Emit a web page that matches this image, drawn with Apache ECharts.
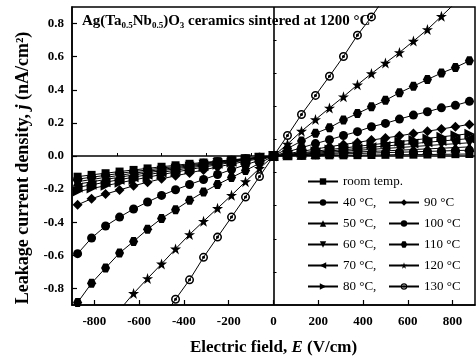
<!DOCTYPE html>
<html><head><meta charset="utf-8">
<script src="https://cdn.jsdelivr.net/npm/echarts@6/dist/echarts.min.js"></script>
<style>html,body{margin:0;padding:0;background:#fff}#c{width:476px;height:361px}</style>
</head><body><div id="c"></div>
<script>
// Electric field values (V/cm)
const fieldValues = [-875,-812.5,-750,-687.5,-625,-562.5,-500,-437.5,-375,-312.5,-250,-187.5,-125,-62.5,0,62.5,125,187.5,250,312.5,375,437.5,500,562.5,625,687.5,750,812.5,875];

// Leakage current density (nA/cm^2) for each temperature
const roomTemp = [-0.125,-0.114,-0.104,-0.094,-0.084,-0.075,-0.065,-0.056,-0.047,-0.039,-0.031,-0.023,-0.015,-0.007,0,0.001,0.002,0.003,0.004,0.004,0.005,0.006,0.007,0.008,0.008,0.009,0.010,0.011,0.012];
const t40 = [-0.140,-0.128,-0.117,-0.105,-0.094,-0.084,-0.073,-0.063,-0.053,-0.044,-0.034,-0.025,-0.017,-0.008,0,0.003,0.005,0.008,0.010,0.013,0.015,0.018,0.020,0.023,0.025,0.028,0.030,0.033,0.035];
const t50 = [-0.155,-0.142,-0.129,-0.117,-0.104,-0.093,-0.081,-0.070,-0.059,-0.048,-0.038,-0.028,-0.018,-0.009,0,0.004,0.008,0.012,0.016,0.020,0.024,0.028,0.031,0.035,0.039,0.043,0.047,0.051,0.055];
const t60 = [-0.170,-0.156,-0.142,-0.128,-0.115,-0.101,-0.089,-0.077,-0.065,-0.053,-0.042,-0.031,-0.020,-0.010,0,0.006,0.011,0.017,0.023,0.029,0.034,0.040,0.046,0.051,0.057,0.063,0.069,0.074,0.080];
const t70 = [-0.190,-0.174,-0.158,-0.143,-0.128,-0.113,-0.099,-0.086,-0.072,-0.059,-0.047,-0.034,-0.022,-0.011,0,0.008,0.015,0.023,0.030,0.038,0.045,0.053,0.060,0.068,0.075,0.083,0.090,0.098,0.105];
const t80 = [-0.215,-0.197,-0.179,-0.162,-0.145,-0.128,-0.112,-0.097,-0.082,-0.067,-0.053,-0.039,-0.025,-0.012,0,0.010,0.019,0.029,0.039,0.048,0.058,0.068,0.077,0.087,0.096,0.106,0.116,0.125,0.135];
const t90 = [-0.295,-0.258,-0.230,-0.205,-0.180,-0.158,-0.138,-0.120,-0.102,-0.084,-0.066,-0.049,-0.032,-0.016,0,0.014,0.028,0.042,0.056,0.069,0.082,0.096,0.109,0.122,0.136,0.150,0.163,0.177,0.191];
const t100 = [-0.590,-0.495,-0.423,-0.369,-0.320,-0.278,-0.238,-0.204,-0.172,-0.142,-0.112,-0.082,-0.053,-0.026,0,0.025,0.050,0.075,0.098,0.124,0.147,0.177,0.197,0.223,0.247,0.267,0.291,0.306,0.330];
const t110 = [-0.885,-0.768,-0.676,-0.586,-0.516,-0.443,-0.377,-0.324,-0.268,-0.218,-0.172,-0.130,-0.088,-0.044,0,0.045,0.090,0.137,0.171,0.217,0.257,0.297,0.336,0.382,0.422,0.462,0.501,0.535,0.575];
const t120 = [null,null,null,-0.930,-0.830,-0.740,-0.652,-0.561,-0.474,-0.394,-0.316,-0.237,-0.155,-0.075,0,0.072,0.150,0.220,0.290,0.358,0.430,0.498,0.562,0.625,0.694,0.764,0.844,0.925,null];
const t130 = [null,null,null,null,null,null,-0.985,-0.865,-0.748,-0.612,-0.490,-0.369,-0.248,-0.124,0,0.124,0.251,0.366,0.482,0.601,0.730,0.840,0.965,null,null,null,null,null,null];

const seriesNames = ['room temp.','40 °C','50 °C','60 °C','70 °C','80 °C','90 °C','100 °C','110 °C','120 °C','130 °C'];
const seriesValues = [roomTemp,t40,t50,t60,t70,t80,t90,t100,t110,t120,t130];

const xTickLabels = [-800,-600,-400,-200,0,200,400,600,800];
const xMinorTicks = [-700,-500,-300,-100,100,300,500,700];
const yTickLabels = [-0.8,-0.6,-0.4,-0.2,0,0.2,0.4,0.6,0.8];
const yMinorTicks = [-0.7,-0.5,-0.3,-0.1,0.1,0.3,0.5,0.7];

const SERIF = 'Liberation Serif';
const starPath = 'path://M5,0 L6.2,3.6 L10,3.6 L6.9,5.9 L8.1,9.5 L5,7.3 L1.9,9.5 L3.1,5.9 L0,3.6 L3.8,3.6 Z';
const hexPath = 'path://M2.5,0 L7.5,0 L10,4.33 L7.5,8.66 L2.5,8.66 L0,4.33 Z';
const ringDotPath = 'path://M0,5 A5,5 0 1,1 10,5 A5,5 0 1,1 0,5 Z M1.7,5 A3.3,3.3 0 1,0 8.3,5 A3.3,3.3 0 1,0 1.7,5 Z M3.3,5 A1.7,1.7 0 1,1 6.7,5 A1.7,1.7 0 1,1 3.3,5 Z';
const symbols = [
  {symbol:'rect', rot:0, size:8},
  {symbol:'circle', rot:0, size:9},
  {symbol:'triangle', rot:0, size:10},
  {symbol:'triangle', rot:180, size:10},
  {symbol:'triangle', rot:90, size:10},
  {symbol:'triangle', rot:-90, size:10},
  {symbol:'diamond', rot:0, size:10},
  {symbol:'circle', rot:0, size:9},
  {symbol:hexPath, rot:0, size:9},
  {symbol:starPath, rot:0, size:11},
  {symbol:ringDotPath, rot:0, size:9}
];

const series = seriesNames.map((name, i) => {
  const s = {
    name: name,
    type: 'line',
    xAxisIndex: 0, yAxisIndex: 0,
    data: fieldValues.map((x, j) => [x, seriesValues[i][j]]),
    symbol: symbols[i].symbol,
    symbolRotate: symbols[i].rot,
    symbolSize: symbols[i].size,
    showAllSymbol: true,
    clip: true,
    lineStyle: {color:'#000', width:1},
    itemStyle: {color:'#000', borderWidth:0},
    z: 3
  };
  if (i === 0) {
    s.markLine = {
      silent: true, symbol: 'none', animation: false,
      label: {show:false},
      lineStyle: {color:'#000', width:1.6, type:'solid'},
      data: [{xAxis:0},{yAxis:0}]
    };
  }
  return s;
});

const legendText = {fontFamily: SERIF, fontSize: 13, color:'#000'};
const chart = echarts.init(document.getElementById('c'), null, {renderer:'canvas'});
chart.setOption({
  animation: false,
  backgroundColor: '#fff',
  grid: {left:72, right:1, top:7, bottom:52, show:true, borderColor:'#000', borderWidth:1.5, backgroundColor:'transparent'},
  xAxis: [{
    type:'value', min:-900, max:900, interval:100,
    axisLine:{show:true, onZero:false, lineStyle:{color:'#000', width:1.5}},
    axisTick:{show:true, inside:true, length:5, customValues:xTickLabels, lineStyle:{color:'#000', width:1.2}},
    axisLabel:{customValues:xTickLabels, margin:10, fontFamily:SERIF, fontWeight:'bold', fontSize:13, color:'#000'},
    splitLine:{show:false},
    name:'Electric field, {i|E} (V/cm)', nameLocation:'middle', nameGap:34,
    nameTextStyle:{fontFamily:SERIF, fontWeight:'bold', fontSize:17, color:'#000',
      rich:{i:{fontFamily:SERIF, fontWeight:'bold', fontStyle:'italic', fontSize:17, color:'#000'}}}
  },{
    type:'value', min:-900, max:900, interval:100, position:'bottom',
    axisLine:{show:false},
    axisTick:{show:true, inside:true, length:3, customValues:xMinorTicks, lineStyle:{color:'#000', width:1}},
    axisLabel:{show:false}, splitLine:{show:false}
  }],
  yAxis: [{
    type:'value', min:-0.9, max:0.9, interval:0.1,
    axisLine:{show:true, onZero:false, lineStyle:{color:'#000', width:1.5}},
    axisTick:{show:true, inside:true, length:5, customValues:yTickLabels, lineStyle:{color:'#000', width:1.2}},
    axisLabel:{customValues:yTickLabels, margin:8, formatter:v=>v.toFixed(1), fontFamily:SERIF, fontWeight:'bold', fontSize:13, color:'#000'},
    splitLine:{show:false},
    name:'Leakage current density, {i|j} (nA/cm²)', nameLocation:'middle', nameGap:40,
    nameTextStyle:{fontFamily:SERIF, fontWeight:'bold', fontSize:18, color:'#000', padding:[0,24,0,0],
      rich:{i:{fontFamily:SERIF, fontWeight:'bold', fontStyle:'italic', fontSize:18, color:'#000'}}}
  },{
    type:'value', min:-0.9, max:0.9, interval:0.1, position:'left',
    axisLine:{show:false},
    axisTick:{show:true, inside:true, length:3, customValues:yMinorTicks, lineStyle:{color:'#000', width:1}},
    axisLabel:{show:false}, splitLine:{show:false}
  }],
  legend: [
    {data:['room temp.'], left:302, top:170, itemWidth:30, itemHeight:8, itemGap:6, textStyle:legendText, selectedMode:false},
    {data:['40 °C','50 °C','60 °C','70 °C','80 °C'], orient:'vertical', left:302, top:191, itemWidth:30, itemHeight:8, itemGap:8,
      formatter: n => n + ',', textStyle:legendText, selectedMode:false},
    {data:['90 °C','100 °C','110 °C','120 °C','130 °C'], orient:'vertical', left:383, top:191, itemWidth:30, itemHeight:8, itemGap:8,
      textStyle:legendText, selectedMode:false}
  ],
  graphic: [{
    type:'text', left:82, top:14, z:10,
    style:{
      text:'{b|Ag(Ta}{s|0.5}{b|Nb}{s|0.5}{b|)O}{s|3}{b| ceramics sintered at 1200 °C}',
      rich:{
        b:{fontFamily:SERIF, fontWeight:'bold', fontSize:15, fill:'#000', lineHeight:17, verticalAlign:'middle'},
        s:{fontFamily:SERIF, fontWeight:'bold', fontSize:9, fill:'#000', lineHeight:17, verticalAlign:'bottom', padding:[7,0,0,0]}
      }
    }
  }],
  series: series
});
</script>
</body></html>
